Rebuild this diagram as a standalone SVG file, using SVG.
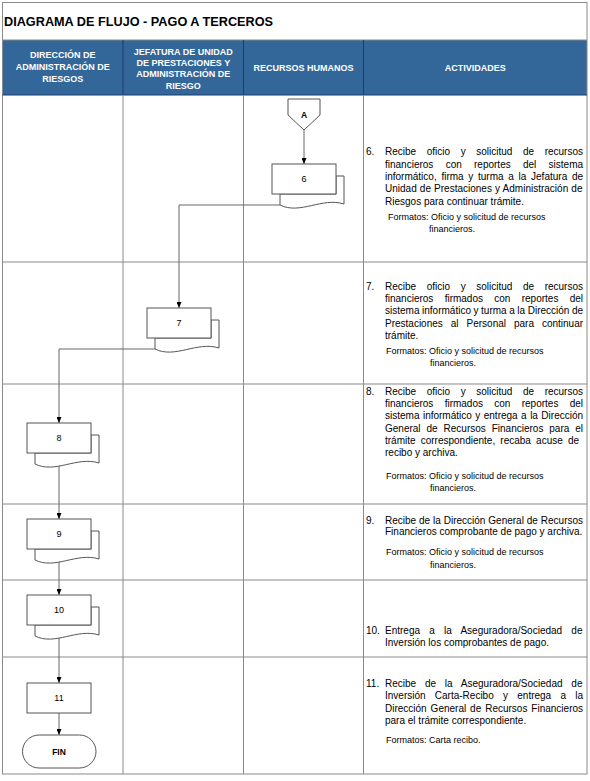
<svg xmlns="http://www.w3.org/2000/svg" width="590" height="781" viewBox="0 0 590 781">
<style>
.frame{fill:none;stroke:#8a8a8a;stroke-width:1}
.grid{fill:none;stroke:#8a8a8a;stroke-width:1}
.hsep{stroke:#1c3a6e;stroke-width:1}
.ttl{font-family:"Liberation Sans",Arial,sans-serif;font-weight:bold;font-size:12.7px;fill:#000}
.ht{font-family:"Liberation Sans",Arial,sans-serif;font-weight:bold;font-size:9px;fill:#fff;text-anchor:middle}
.t{font-family:"Liberation Sans",Arial,sans-serif;font-size:10px;fill:#000}
.f{font-family:"Liberation Sans",Arial,sans-serif;font-size:9px;fill:#000}
.box{fill:#fff;stroke:#555;stroke-width:1}
.lbl{font-family:"Liberation Sans",Arial,sans-serif;font-size:9px;fill:#000;text-anchor:middle}
.blbl{font-family:"Liberation Sans",Arial,sans-serif;font-size:8.5px;font-weight:bold;fill:#000;text-anchor:middle}
.conn{fill:none;stroke:#666;stroke-width:1;marker-end:url(#ah)}
</style>
<defs>
<marker id="ah" markerUnits="userSpaceOnUse" markerWidth="6" markerHeight="5" viewBox="0 0 6 5" refX="6" refY="2.5" orient="auto">
<path d="M0,0 L6,2.5 L0,5 Z" fill="#000"/>
</marker>
</defs>
<rect x="0" y="0" width="590" height="781" fill="#fff"/>
<g id="table">
<rect x="2.5" y="40" width="584.5" height="55" fill="#336699"/>
<rect class="frame" x="2.5" y="2.5" width="584.5" height="771.5"/>
<line class="grid" x1="2.5" y1="40" x2="587" y2="40"/>
<line class="hsep" x1="2.5" y1="95" x2="587" y2="95"/>
<line class="hsep" x1="123" y1="40" x2="123" y2="95"/>
<line class="hsep" x1="243.5" y1="40" x2="243.5" y2="95"/>
<line class="hsep" x1="363.5" y1="40" x2="363.5" y2="95"/>
<line class="grid" x1="123" y1="95" x2="123" y2="774"/>
<line class="grid" x1="243.5" y1="95" x2="243.5" y2="774"/>
<line class="grid" x1="363.5" y1="95" x2="363.5" y2="774"/>
<line class="grid" x1="2.5" y1="262" x2="587" y2="262"/>
<line class="grid" x1="2.5" y1="384" x2="587" y2="384"/>
<line class="grid" x1="2.5" y1="504" x2="587" y2="504"/>
<line class="grid" x1="2.5" y1="580" x2="587" y2="580"/>
<line class="grid" x1="2.5" y1="657" x2="587" y2="657"/>
<text class="ttl" x="4" y="26">DIAGRAMA DE FLUJO - PAGO A TERCEROS</text>
<text class="ht" x="62.8" y="58.3">DIRECCIÓN DE</text>
<text class="ht" x="62.8" y="70">ADMINISTRACIÓN DE</text>
<text class="ht" x="62.8" y="81.6">RIESGOS</text>
<text class="ht" x="183.3" y="55">JEFATURA DE UNIDAD</text>
<text class="ht" x="183.3" y="66.2">DE PRESTACIONES Y</text>
<text class="ht" x="183.3" y="77.4">ADMINISTRACIÓN DE</text>
<text class="ht" x="183.3" y="88.6">RIESGO</text>
<text class="ht" x="303.5" y="71">RECURSOS HUMANOS</text>
<text class="ht" x="475.3" y="71">ACTIVIDADES</text>
</g>
<g id="connectors">
<path class="conn" d="M304,130 L304,164"/>
<path class="conn" d="M280,205 L179,205 L179,308"/>
<path class="conn" d="M155,349 L59,349 L59,423"/>
<path class="conn" d="M59,466 L59,519"/>
<path class="conn" d="M59,562 L59,595"/>
<path class="conn" d="M59,638 L59,683"/>
<path class="conn" d="M59,713 L59,735"/>
</g>
<g id="node-A">
<polygon class="box" points="288,99 320,99 320,115 304,130 288,115"/>
<text class="blbl" x="304" y="117.5">A</text>
</g>
<g id="node-6">
<path class="box" d="M280,194 L280,205 C300,215 322,197 344,204 L344,176 L336,176 L336,194 Z"/>
<rect class="box" x="272" y="164" width="64" height="30"/>
<text class="lbl" x="304" y="182">6</text>
</g>
<g id="node-7">
<path class="box" d="M155,338 L155,349 C175,359 197,341 219,348 L219,320 L211,320 L211,338 Z"/>
<rect class="box" x="147" y="308" width="64" height="30"/>
<text class="lbl" x="179" y="326">7</text>
</g>
<g id="node-8">
<path class="box" d="M35,453 L35,464 C55,474 77,456 99,463 L99,435 L91,435 L91,453 Z"/>
<rect class="box" x="27" y="423" width="64" height="30"/>
<text class="lbl" x="59" y="441">8</text>
</g>
<g id="node-9">
<path class="box" d="M35,549 L35,560 C55,570 77,552 99,559 L99,531 L91,531 L91,549 Z"/>
<rect class="box" x="27" y="519" width="64" height="30"/>
<text class="lbl" x="59" y="537">9</text>
</g>
<g id="node-10">
<path class="box" d="M35,625 L35,636 C55,646 77,628 99,635 L99,607 L91,607 L91,625 Z"/>
<rect class="box" x="27" y="595" width="64" height="30"/>
<text class="lbl" x="59" y="613">10</text>
</g>
<g id="node-11">
<rect class="box" x="27" y="683" width="64" height="30"/>
<text class="lbl" x="59" y="701">11</text>
</g>
<g id="node-fin">
<rect class="box" x="22.5" y="735" width="73.5" height="33" rx="16.5" ry="16.5"/>
<text class="blbl" x="59" y="754.5">FIN</text>
</g>
<g id="activities">
<text class="t" x="366" y="155.2">6.</text>
<text class="t" x="385" y="155.2" word-spacing="7.81">Recibe oficio y solicitud de recursos</text>
<text class="t" x="385" y="167.6" word-spacing="9.49">financieros con reportes del sistema</text>
<text class="t" x="385" y="179.9" word-spacing="1.93">informático, firma y turma a la Jefatura de</text>
<text class="t" x="385" y="192.3" word-spacing="0.36">Unidad de Prestaciones y Administración de</text>
<text class="t" x="385" y="204.6">Riesgos para continuar trámite.</text>
<text class="f" x="388" y="219.5">Formatos: Oficio y solicitud de recursos</text>
<text class="f" x="429" y="231.8">financieros.</text>

<text class="t" x="366" y="289.5">7.</text>
<text class="t" x="385" y="289.5" word-spacing="7.81">Recibe oficio y solicitud de recursos</text>
<text class="t" x="385" y="301.8" word-spacing="8.51">financieros firmados con reportes del</text>
<text class="t" x="385" y="314.2" word-spacing="-0.2">sistema informático y turma a la Dirección de</text>
<text class="t" x="385" y="326.6" word-spacing="5.18">Prestaciones al Personal para continuar</text>
<text class="t" x="385" y="339">trámite.</text>
<text class="f" x="386" y="353.5">Formatos: Oficio y solicitud de recursos</text>
<text class="f" x="430" y="365.8">financieros.</text>

<text class="t" x="366" y="394.5">8.</text>
<text class="t" x="385" y="394.5" word-spacing="7.81">Recibe oficio y solicitud de recursos</text>
<text class="t" x="385" y="406.8" word-spacing="8.51">financieros firmados con reportes del</text>
<text class="t" x="385" y="419.2" word-spacing="0.68">sistema informático y entrega a la Dirección</text>
<text class="t" x="385" y="431.5" word-spacing="3.14">General de Recursos Financieros para el</text>
<text class="t" x="385" y="443.8" word-spacing="2.37">trámite correspondiente, recaba acuse de</text>
<text class="t" x="385" y="456.2">recibo y archiva.</text>
<text class="f" x="386" y="478.5">Formatos: Oficio y solicitud de recursos</text>
<text class="f" x="430" y="490.8">financieros.</text>

<text class="t" x="366" y="523.5">9.</text>
<text class="t" x="385" y="523.5" word-spacing="0.12">Recibe de la Dirección General de Recursos</text>
<text class="t" x="385" y="535.2">Financieros comprobante de pago y archiva.</text>
<text class="f" x="386" y="555.2">Formatos: Oficio y solicitud de recursos</text>
<text class="f" x="430" y="567.5">financieros.</text>

<text class="t" x="366" y="634">10.</text>
<text class="t" x="385" y="634" word-spacing="6.42">Entrega a la Aseguradora/Sociedad de</text>
<text class="t" x="385" y="645.5">Inversión los comprobantes de pago.</text>

<text class="t" x="366" y="686.8">11.</text>
<text class="t" x="385" y="686.8" word-spacing="6.0">Recibe de la Aseguradora/Sociedad de</text>
<text class="t" x="385" y="699.2" word-spacing="6.48">Inversión Carta-Recibo y entrega a la</text>
<text class="t" x="385" y="711.5" word-spacing="1.15">Dirección General de Recursos Financieros</text>
<text class="t" x="385" y="723.8">para el trámite correspondiente.</text>
<text class="f" x="386" y="742.8">Formatos: Carta recibo.</text>
</g>
</svg>
